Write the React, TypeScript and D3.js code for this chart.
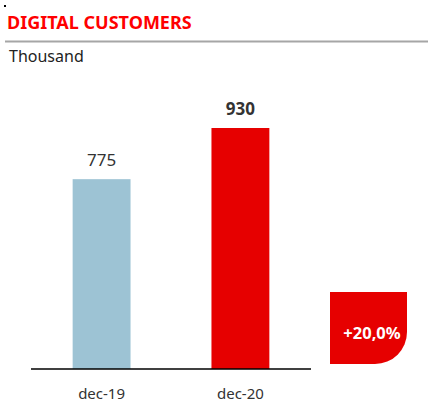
import React from "react";
import * as d3 from "d3";

const categories = ["dec-19", "dec-20"];
const values = [775, 930];
const barColors = ["#9DC3D4", "#E60000"];
const labelWeights = ["normal", "bold"];
const title = "DIGITAL CUSTOMERS";
const subtitle = "Thousand";
const growthLabel = "+20,0%";

const W = 428;
const H = 403;
const FONT = "'Noto Sans', 'Open Sans', sans-serif";

export default function App() {
  const x = d3.scaleBand<string>().domain(categories).range([31, 311]).paddingInner(0.583).paddingOuter(0.3);
  const y = d3.scaleLinear().domain([200, 930]).range([369, 128]);
  const baseY = 369;

  // badge path with rounded bottom-right corner
  const bx = 330, by = 292, bw = 77, bh = 72, r = 32;
  const badgePath = d3.path();
  badgePath.moveTo(bx, by);
  badgePath.lineTo(bx + bw, by);
  badgePath.lineTo(bx + bw, by + bh - r);
  badgePath.arcTo(bx + bw, by + bh, bx + bw - r, by + bh, r);
  badgePath.lineTo(bx, by + bh);
  badgePath.closePath();

  return (
    <svg width={W} height={H} style={{ position: "absolute", left: 0, top: 0, background: "#fff" }}>
      <rect x={4} y={5} width={2} height={2} fill="#000" />
      <text x={7} y={29} fill="#FF0000" fontFamily={FONT} fontWeight="bold" fontSize={18}>{title}</text>
      <line x1={5} x2={W} y1={41.5} y2={41.5} stroke="#A6A6A6" strokeWidth={2} />
      <text x={9} y={62} fill="#222" fontFamily={FONT} fontSize={16}>{subtitle}</text>

      {categories.map((c, i) => (
        <g key={c}>
          <rect x={x(c)} y={y(values[i])} width={x.bandwidth()} height={baseY - y(values[i])} fill={barColors[i]} />
          <text
            x={(x(c) as number) + x.bandwidth() / 2}
            y={y(values[i]) - 13}
            textAnchor="middle"
            fill="#333"
            fontFamily={FONT}
            fontSize={17}
            fontWeight={labelWeights[i]}
          >
            {d3.format("d")(values[i])}
          </text>
          <text
            x={(x(c) as number) + x.bandwidth() / 2}
            y={399}
            textAnchor="middle"
            fill="#333"
            fontFamily={FONT}
            fontSize={15}
          >
            {c}
          </text>
        </g>
      ))}
      <line x1={31} x2={311} y1={baseY} y2={baseY} stroke="#000" strokeWidth={1.5} />

      <path d={badgePath.toString()} fill="#E60000" />
      <text x={372} y={339} textAnchor="middle" fill="#fff" fontFamily={FONT} fontWeight="bold" fontSize={16.5}>{growthLabel}</text>
    </svg>
  );
}
